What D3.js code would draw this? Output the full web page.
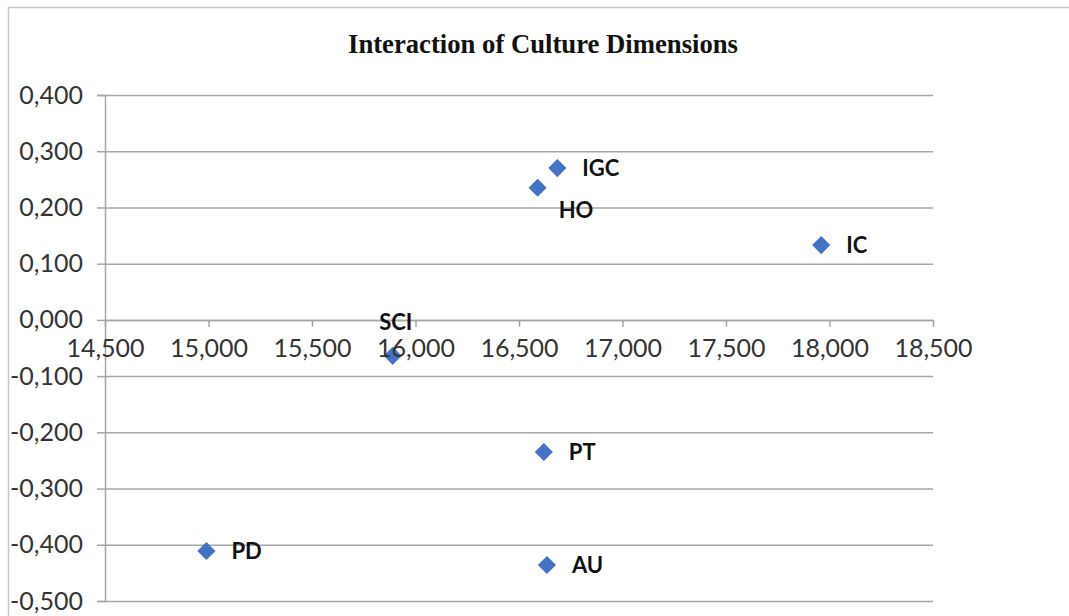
<!DOCTYPE html>
<html>
<head>
<meta charset="utf-8">
<script src="https://cdn.jsdelivr.net/npm/d3@7"></script>
<style>
  html, body { margin: 0; padding: 0; background: #fff; }
</style>
</head>
<body>
<div id="chart"></div>
<script>
// data
const labels = ['IGC', 'HO', 'IC', 'SCI', 'PT', 'PD', 'AU'];
const xValues = [16685, 16590, 17960, 15890, 16620, 14990, 16635];
const yValues = [0.270, 0.235, 0.133, -0.064, -0.235, -0.411, -0.436];
const labelPos = ['right', 'below', 'right', 'above', 'right', 'right', 'right'];
const xTicks = [14500, 15000, 15500, 16000, 16500, 17000, 17500, 18000, 18500];
const yTicks = [0.4, 0.3, 0.2, 0.1, 0, -0.1, -0.2, -0.3, -0.4, -0.5];
const title = 'Interaction of Culture Dimensions';

const width = 1069;
const height = 616;
const margin = {top: 95, right: 136, bottom: 15, left: 105};

const x = d3.scaleLinear()
    .domain([14500, 18500])
    .range([margin.left, width - margin.right]);

const y = d3.scaleLinear()
    .domain([-0.5, 0.4])
    .range([height - margin.bottom, margin.top]);

const fmtX = d3.format(',');
const fmtY = v => d3.format('.3f')(v).replace('.', ',').replace('\u2212', '-');

const svg = d3.select('#chart').append('svg')
    .attr('width', width)
    .attr('height', height)
    .style('display', 'block');

// chart border (only top and left are visible in the crop)
svg.append('path')
    .attr('d', `M8.5,${height} V7.5 H${width}`)
    .attr('fill', 'none')
    .attr('stroke', '#c8c8c8')
    .attr('stroke-width', 1.5);

svg.append('text')
    .attr('x', 543)
    .attr('y', 53)
    .attr('text-anchor', 'middle')
    .attr('font-family', '"Liberation Serif", serif')
    .attr('font-weight', 'bold')
    .attr('font-size', 27)
    .attr('textLength', 390)
    .attr('lengthAdjust', 'spacingAndGlyphs')
    .attr('fill', '#111')
    .text(title);

// horizontal gridlines + y axis
const yAxis = g => g
    .attr('transform', `translate(${margin.left},0)`)
    .call(d3.axisLeft(y).tickValues(yTicks).tickFormat(fmtY).tickSize(8).tickPadding(14))
    .call(g => g.select('.domain').attr('stroke', '#a6a6a6').attr('stroke-width', 1.5))
    .call(g => g.selectAll('.tick line').clone()
        .attr('x2', width - margin.left - margin.right)
        .attr('stroke', '#a6a6a6'))
    .call(g => g.selectAll('.tick line').attr('stroke', '#a6a6a6').attr('stroke-width', 1.5))
    .call(g => g.selectAll('.tick text')
        .attr('font-family', 'Lato, sans-serif')
        .attr('font-size', 25)
        .attr('fill', '#333'));

svg.append('g').call(yAxis);

// markers
const diamond = d3.symbol().type(d3.symbolSquare).size(165)();
const pts = labels.map((l, i) => ({label: l, x: xValues[i], y: yValues[i], pos: labelPos[i]}));

svg.append('g')
    .selectAll('path')
    .data(pts)
    .join('path')
    .attr('d', diamond)
    .attr('transform', d => `translate(${x(d.x)},${y(d.y)}) rotate(45)`)
    .attr('fill', '#4472c4');

// x axis sits on y = 0, drawn above the markers
const xAxis = g => g
    .attr('transform', `translate(0,${y(0)})`)
    .call(d3.axisBottom(x).tickValues(xTicks).tickFormat(fmtX).tickSize(7).tickPadding(12).tickSizeOuter(0))
    .call(g => g.select('.domain').attr('stroke', '#a6a6a6').attr('stroke-width', 1.5))
    .call(g => g.selectAll('.tick line').attr('stroke', '#a6a6a6').attr('stroke-width', 1.5))
    .call(g => g.selectAll('.tick text')
        .attr('font-family', 'Lato, sans-serif')
        .attr('font-size', 25)
        .attr('fill', '#333'));

svg.append('g').call(xAxis);

// data labels
svg.append('g')
    .selectAll('text')
    .data(pts)
    .join('text')
    .attr('x', d => d.pos === 'right' ? x(d.x) + 25 : d.pos === 'below' ? x(d.x) + 21 : x(d.x) + 3)
    .attr('y', d => d.pos === 'below' ? y(d.y) + 23 : d.pos === 'above' ? y(d.y) - 34 : y(d.y))
    .attr('dy', '0.35em')
    .attr('text-anchor', d => d.pos === 'above' ? 'middle' : 'start')
    .attr('font-family', 'Lato, sans-serif')
    .attr('font-weight', 'bold')
    .attr('font-size', 22)
    .attr('fill', '#111')
    .text(d => d.label);
</script>
</body>
</html>
